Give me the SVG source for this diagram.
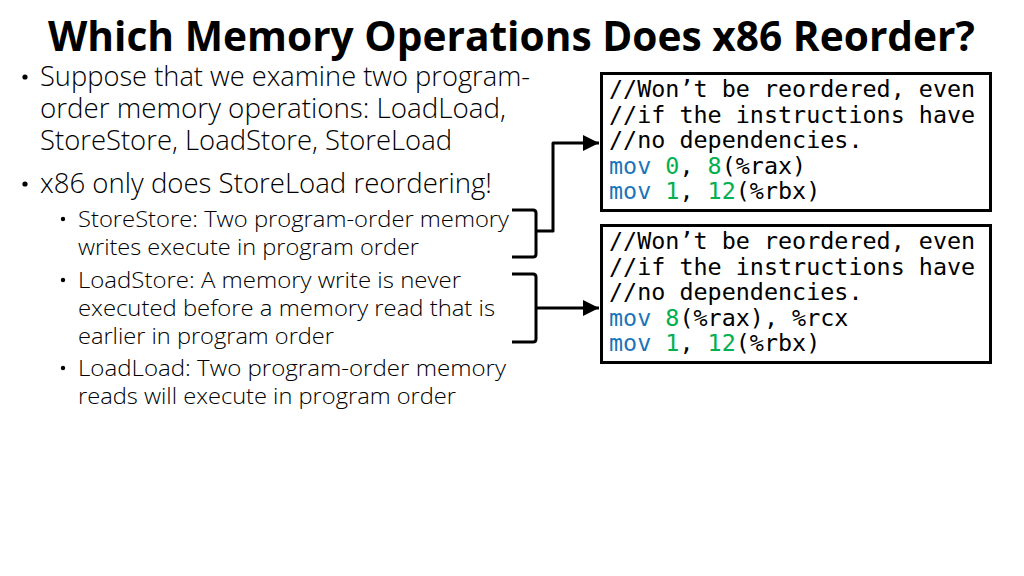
<svg xmlns="http://www.w3.org/2000/svg" width="1024" height="576" viewBox="0 0 1024 576">
<defs>
<style>
.title{font-family:"Open Sans","Noto Sans","Liberation Sans",sans-serif;font-weight:700;font-size:42px;fill:#000}
.b1{font-family:"Open Sans","Noto Sans","Liberation Sans",sans-serif;font-weight:300;font-size:28px;fill:#000}
.b2{font-family:"Open Sans","Noto Sans","Liberation Sans",sans-serif;font-weight:300;font-size:21.5px;fill:#000}
.code{font-family:"DejaVu Sans Mono","Liberation Mono",monospace;font-size:23.4px;fill:#000}
.kw{fill:#1B75BB}
.num{fill:#00B050}
.box{fill:#fff;stroke:#000;stroke-width:3}
.conn{fill:none;stroke:#000;stroke-width:3;stroke-linejoin:round}
</style>
<marker id="arr" viewBox="0 0 10 10" refX="10" refY="5" markerWidth="5.5" markerHeight="5.5" markerUnits="strokeWidth" orient="auto">
<path d="M0,0 L10,5 L0,10 Z" fill="#000"/>
</marker>
</defs>
<rect width="1024" height="576" fill="#fff"/>

<g id="title">
<text class="title" x="48" y="51" textLength="927" lengthAdjust="spacingAndGlyphs">Which Memory Operations Does x86 Reorder?</text>
</g>

<g id="bullets">
<circle cx="25" cy="77" r="2.6"/>
<text class="b1" x="40" y="86" textLength="490" lengthAdjust="spacingAndGlyphs">Suppose that we examine two program-</text>
<text class="b1" x="40" y="118" textLength="466" lengthAdjust="spacingAndGlyphs">order memory operations: LoadLoad,</text>
<text class="b1" x="40" y="150" textLength="412" lengthAdjust="spacingAndGlyphs">StoreStore, LoadStore, StoreLoad</text>
<circle cx="25" cy="184" r="2.6"/>
<text class="b1" x="40" y="193" textLength="452" lengthAdjust="spacingAndGlyphs">x86 only does StoreLoad reordering!</text>

<circle cx="63" cy="219" r="2.2"/>
<text class="b2" x="78" y="227" textLength="431" lengthAdjust="spacingAndGlyphs">StoreStore: Two program-order memory</text>
<text class="b2" x="78" y="255" textLength="341" lengthAdjust="spacingAndGlyphs">writes execute in program order</text>
<circle cx="63" cy="280" r="2.2"/>
<text class="b2" x="78" y="288" textLength="383" lengthAdjust="spacingAndGlyphs">LoadStore: A memory write is never</text>
<text class="b2" x="78" y="316" textLength="417" lengthAdjust="spacingAndGlyphs">executed before a memory read that is</text>
<text class="b2" x="78" y="344" textLength="256" lengthAdjust="spacingAndGlyphs">earlier in program order</text>
<circle cx="63" cy="368" r="2.2"/>
<text class="b2" x="78" y="376" textLength="428" lengthAdjust="spacingAndGlyphs">LoadLoad: Two program-order memory</text>
<text class="b2" x="78" y="404" textLength="378" lengthAdjust="spacingAndGlyphs">reads will execute in program order</text>
</g>

<g id="code1">
<rect class="box" x="601.5" y="73.5" width="389" height="137"/>
<text class="code" x="609" y="97">//Won’t be reordered, even</text>
<text class="code" x="609" y="122.5">//if the instructions have</text>
<text class="code" x="609" y="148">//no dependencies.</text>
<text class="code" x="609" y="173.5"><tspan class="kw">mov</tspan> <tspan class="num">0</tspan>, <tspan class="num">8</tspan>(%rax)</text>
<text class="code" x="609" y="199"><tspan class="kw">mov</tspan> <tspan class="num">1</tspan>, <tspan class="num">12</tspan>(%rbx)</text>
</g>

<g id="code2">
<rect class="box" x="601.5" y="225.5" width="389" height="137"/>
<text class="code" x="609" y="249">//Won’t be reordered, even</text>
<text class="code" x="609" y="274.5">//if the instructions have</text>
<text class="code" x="609" y="300">//no dependencies.</text>
<text class="code" x="609" y="325.5"><tspan class="kw">mov</tspan> <tspan class="num">8</tspan>(%rax), %rcx</text>
<text class="code" x="609" y="351"><tspan class="kw">mov</tspan> <tspan class="num">1</tspan>, <tspan class="num">12</tspan>(%rbx)</text>
</g>

<g id="connectors">
<path class="conn" d="M512,210 H533 Q536,210 536,213 V254 Q536,257 533,257 H512 M536,231 H553 V143 H599" marker-end="url(#arr)"/>
<path class="conn" d="M512,274 H533 Q536,274 536,277 V339 Q536,342 533,342 H512 M536,308 H599" marker-end="url(#arr)"/>
</g>
</svg>
